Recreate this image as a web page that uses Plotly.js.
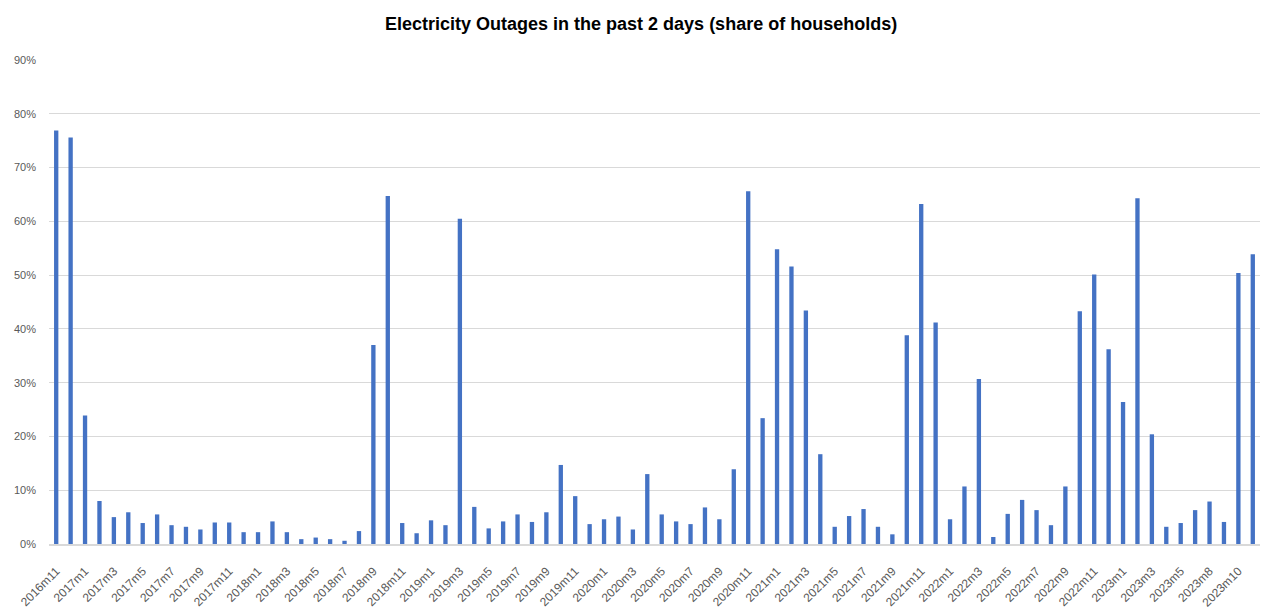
<!DOCTYPE html>
<html>
<head>
<meta charset="utf-8">
<script src="https://cdn.plot.ly/plotly-3.0.1.min.js"></script>
<style>
html,body{margin:0;padding:0;background:#fff;}
#chart{width:1262px;height:612px;}
</style>
</head>
<body>
<div id="chart"></div>
<script>
const months = [
  "2016m11","2016m12",
  "2017m1","2017m2","2017m3","2017m4","2017m5","2017m6","2017m7","2017m8","2017m9","2017m10","2017m11","2017m12",
  "2018m1","2018m2","2018m3","2018m4","2018m5","2018m6","2018m7","2018m8","2018m9","2018m10","2018m11","2018m12",
  "2019m1","2019m2","2019m3","2019m4","2019m5","2019m6","2019m7","2019m8","2019m9","2019m10","2019m11","2019m12",
  "2020m1","2020m2","2020m3","2020m4","2020m5","2020m6","2020m7","2020m8","2020m9","2020m10","2020m11","2020m12",
  "2021m1","2021m2","2021m3","2021m4","2021m5","2021m6","2021m7","2021m8","2021m9","2021m10","2021m11","2021m12",
  "2022m1","2022m2","2022m3","2022m4","2022m5","2022m6","2022m7","2022m8","2022m9","2022m10","2022m11","2022m12",
  "2023m1","2023m2","2023m3","2023m4","2023m5","2023m6","2023m8","2023m9","2023m10","2023m11"
];
const outageShare = [
  0.769,0.756,
  0.239,0.080,0.050,0.059,0.039,0.055,0.035,0.032,0.027,0.040,0.040,0.022,
  0.022,0.042,0.022,0.009,0.012,0.009,0.006,0.024,0.370,0.647,0.039,0.020,
  0.044,0.035,0.605,0.069,0.029,0.042,0.055,0.041,0.059,0.147,0.089,0.037,
  0.046,0.051,0.027,0.130,0.055,0.042,0.037,0.068,0.046,0.139,0.656,0.234,
  0.548,0.516,0.434,0.167,0.032,0.052,0.065,0.032,0.018,0.388,0.632,0.412,
  0.046,0.107,0.307,0.013,0.056,0.082,0.063,0.035,0.107,0.433,0.501,0.362,
  0.264,0.643,0.204,0.032,0.039,0.063,0.079,0.041,0.504,0.539
];
const tickLabels = [
  "2016m11","2017m1","2017m3","2017m5","2017m7","2017m9","2017m11",
  "2018m1","2018m3","2018m5","2018m7","2018m9","2018m11",
  "2019m1","2019m3","2019m5","2019m7","2019m9","2019m11",
  "2020m1","2020m3","2020m5","2020m7","2020m9","2020m11",
  "2021m1","2021m3","2021m5","2021m7","2021m9","2021m11",
  "2022m1","2022m3","2022m5","2022m7","2022m9","2022m11",
  "2023m1","2023m3","2023m5","2023m8","2023m10"
];
const yTicks = [0,0.1,0.2,0.3,0.4,0.5,0.6,0.7,0.8,0.9];

const trace = {
  type: 'bar',
  x: months,
  y: outageShare,
  marker: {color: '#4472C4'},
  hoverinfo: 'x+y'
};

const layout = {
  width: 1262,
  height: 612,
  paper_bgcolor: '#ffffff',
  plot_bgcolor: '#ffffff',
  margin: {l: 49, r: 2, t: 60, b: 68},
  bargap: 0.7,
  showlegend: false,
  title: {
    text: '<b>Electricity Outages in the past 2 days (share of households)</b>',
    x: 0.508, xanchor: 'center',
    y: 0.962, yanchor: 'middle',
    font: {family: 'Liberation Sans, Arial, sans-serif', size: 18, color: '#000000'}
  },
  xaxis: {
    type: 'category',
    tickmode: 'array',
    tickvals: tickLabels,
    ticktext: tickLabels,
    tickangle: -45,
    tickfont: {family: 'Liberation Sans, Arial, sans-serif', size: 12, color: '#595959'},
    showgrid: false,
    showline: true,
    linecolor: '#d9d9d9',
    linewidth: 1.5,
    ticks: '',
    ticklabelstandoff: 14,
    zeroline: false,
    automargin: false
  },
  yaxis: {
    range: [0, 0.9],
    tickmode: 'array',
    tickvals: yTicks,
    tickformat: '.0%',
    tickfont: {family: 'Liberation Sans, Arial, sans-serif', size: 11, color: '#595959'},
    showgrid: true,
    gridcolor: '#d9d9d9',
    gridwidth: 1,
    zeroline: false,
    showline: false,
    ticks: '',
    ticklabelstandoff: 12
  }
};

Plotly.newPlot('chart', [trace], layout, {displayModeBar: false, staticPlot: true});
</script>
</body>
</html>
